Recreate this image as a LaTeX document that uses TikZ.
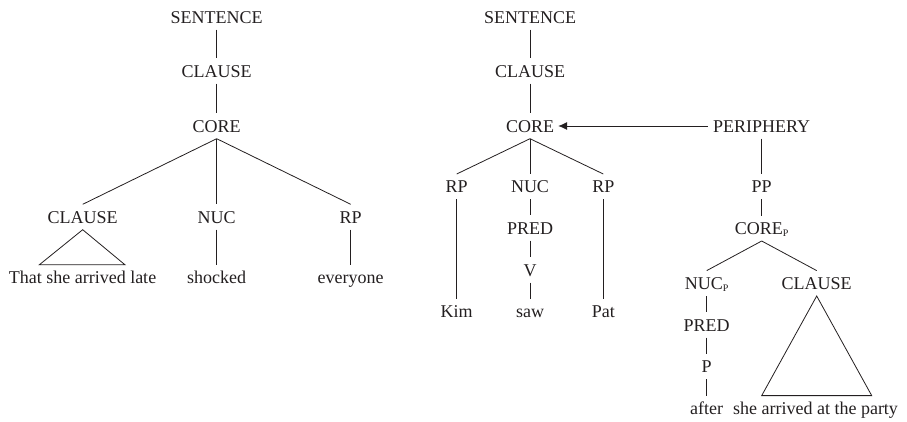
\documentclass[tikz,border=0pt]{standalone}
\usepackage{fontspec}
\setmainfont{Liberation Serif}
\usetikzlibrary{arrows.meta}
\definecolor{ink}{HTML}{231F20}
\newcommand{\subP}{\raisebox{-2.5pt}{\fontsize{10}{10}\selectfont P}}
\begin{document}
\begin{tikzpicture}[x=1pt,y=-1pt,
  lab/.style={inner xsep=1pt, inner ysep=6.5pt, text height=12pt, text depth=0pt,
    font=\fontsize{18}{20}\selectfont, text=ink},
  edge/.style={draw=ink, line width=0.8pt},
  tri/.style={draw=ink, line width=0.8pt, line join=miter}]
\useasboundingbox (0,0) rectangle (907,421);
% ---------- left tree ----------
\node[lab] (lS) at (216.7,17) {SENTENCE};
\node[lab] (lCl) at (216.7,71) {CLAUSE};
\node[lab] (lCo) at (216.7,126) {CORE};
\node[lab] (lCl2) at (82.7,217) {CLAUSE};
\node[lab] (lNuc) at (216.7,217) {NUC};
\node[lab] (lRP) at (350.7,217) {RP};
\node[lab] (lt1) at (82.5,277.5) {That she arrived late};
\node[lab] (lt2) at (216.7,277.5) {shocked};
\node[lab] (lt3) at (350.7,277.5) {everyone};
\coordinate (lb1) at (39.3,0 |- lt1.north);
\coordinate (lb2) at (125,0 |- lt1.north);
\draw[edge] (lS) -- (lCl);
\draw[edge] (lCl) -- (lCo);
\draw[edge] (lCo.south) -- (lCl2.north);
\draw[edge] (lCo.south) -- (lNuc.north);
\draw[edge] (lCo.south) -- (lRP.north);
\draw[edge] (lNuc) -- (lt2);
\draw[edge] (lRP) -- (lt3);
\draw[tri] (lCl2.south) -- (lb1) -- (lb2) -- cycle;
% ---------- right tree ----------
\node[lab] (rS) at (530,17) {SENTENCE};
\node[lab] (rCl) at (530,71) {CLAUSE};
\node[lab] (rCo) at (530,126) {CORE};
\node[lab] (rRP1) at (456.7,186.7) {RP};
\node[lab] (rNuc) at (530,186.7) {NUC};
\node[lab] (rRP2) at (603.3,186.7) {RP};
\node[lab] (rPred) at (530,228) {PRED};
\node[lab] (rV) at (530,270) {V};
\node[lab] (rKim) at (456.7,311.7) {Kim};
\node[lab] (rSaw) at (530,311.7) {saw};
\node[lab] (rPat) at (603.3,311.7) {Pat};
\node[lab] (rPer) at (761.7,126) {PERIPHERY};
\node[lab] (rPP) at (761.7,186.7) {PP};
\node[lab] (rCoP) at (761.7,228.3) {CORE\subP};
\node[lab] (rNucP) at (706.7,283.3) {NUC\subP};
\node[lab] (rCl2) at (816.7,283.3) {CLAUSE};
\node[lab] (rPred2) at (706.7,325) {PRED};
\node[lab] (rP) at (706.7,366.7) {P};
\node[lab] (rAfter) at (706.7,408.3) {after};
\node[lab] (rText) at (815.5,408.3) {she arrived at the party};
\coordinate (rb1) at (761.7,0 |- rText.north);
\coordinate (rb2) at (871.7,0 |- rText.north);
\draw[edge] (rS) -- (rCl);
\draw[edge] (rCl) -- (rCo);
\draw[edge] (rCo.south) -- (rRP1.north);
\draw[edge] (rCo.south) -- (rNuc.north);
\draw[edge] (rCo.south) -- (rRP2.north);
\draw[edge] (rRP1) -- (rKim);
\draw[edge] (rNuc) -- (rPred);
\draw[edge] (rPred) -- (rV);
\draw[edge] (rV) -- (rSaw);
\draw[edge] (rRP2) -- (rPat);
\draw[edge, -{Latex[length=9pt,width=8pt]}, shorten <=4pt, shorten >=3pt] (rPer.west) -- (rCo.east);
\draw[edge] (rPer) -- (rPP);
\draw[edge] (rPP) -- (rCoP);
\draw[edge] (rCoP.south) -- (rNucP.north);
\draw[edge] (rCoP.south) -- (rCl2.north);
\draw[edge] (rNucP.south -| rPred2) -- (rPred2);
\draw[edge] (rPred2) -- (rP);
\draw[edge] (rP) -- (rAfter);
\draw[tri] (rCl2.south) -- (rb1) -- (rb2) -- cycle;
\end{tikzpicture}
\end{document}
